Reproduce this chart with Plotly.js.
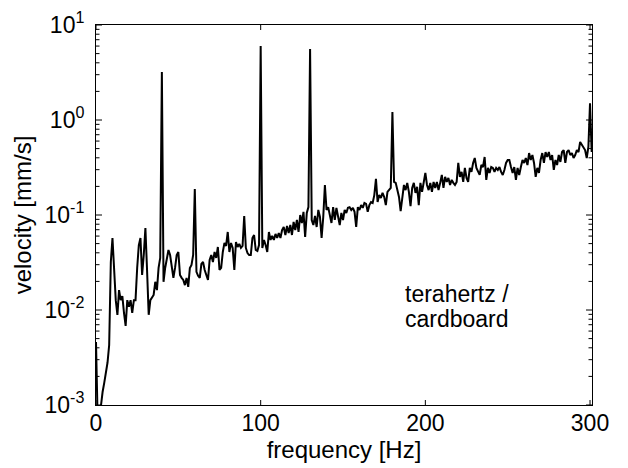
<!DOCTYPE html>
<html>
<head>
<meta charset="utf-8">
<script src="https://cdn.plot.ly/plotly-3.0.1.min.js"></script>
<style>html,body{margin:0;padding:0;background:#fff;}#chart{width:628px;height:468px;}</style>
</head>
<body>
<div id="chart"></div>
<script>
var frequency = [0,1,2,3,4,5,6,7,8,9,10,11,12,13,14,15,16,17,18,19,20,21,22,23,24,25,26,27,28,29,30,31,32,33,34,35,36,37,38,39,40,41,42,43,44,45,46,47,48,49,50,51,52,53,54,55,56,57,58,59,60,61,62,63,64,65,66,67,68,69,70,71,72,73,74,75,76,77,78,79,80,81,82,83,84,85,86,87,88,89,90,91,92,93,94,95,96,97,98,99,100,101,102,103,104,105,106,107,108,109,110,111,112,113,114,115,116,117,118,119,120,121,122,123,124,125,126,127,128,129,130,131,132,133,134,135,136,137,138,139,140,141,142,143,144,145,146,147,148,149,150,151,152,153,154,155,156,157,158,159,160,161,162,163,164,165,166,167,168,169,170,171,172,173,174,175,176,177,178,179,180,181,182,183,184,185,186,187,188,189,190,191,192,193,194,195,196,197,198,199,200,201,202,203,204,205,206,207,208,209,210,211,212,213,214,215,216,217,218,219,220,221,222,223,224,225,226,227,228,229,230,231,232,233,234,235,236,237,238,239,240,241,242,243,244,245,246,247,248,249,250,251,252,253,254,255,256,257,258,259,260,261,262,263,264,265,266,267,268,269,270,271,272,273,274,275,276,277,278,279,280,281,282,283,284,285,286,287,288,289,290,291,292,293,294,295,296,297,298,299,300,301];

var velocity = [
0.0046,0.0007,0.0007,0.00101,0.00137,0.00171,0.00221,0.0028,0.00428,0.032,
0.0573,0.0234,0.0127,0.0089,0.0162,0.0127,0.0140,0.0093,0.0068,0.0127,
0.0108,0.0127,0.0093,0.0127,0.0127,0.0277,0.0483,0.0573,0.0234,0.0379,
0.0730,0.0264,0.0089,0.0127,0.0134,0.0144,0.0198,0.0162,0.0277,0.0353,
3.2,0.0198,0.0277,0.0353,0.0428,0.0379,0.0298,0.0218,0.0277,0.0379,
0.0408,0.0234,0.0218,0.0207,0.0183,0.0218,0.0175,0.0277,0.0298,0.0379,
0.188,0.0252,0.0229,0.0218,0.0305,0.0320,0.0264,0.0234,0.0207,0.0336,
0.0379,0.0320,0.0408,0.0353,0.0461,0.0264,0.0277,0.0408,0.0508,0.0472,
0.0663,0.0408,0.0508,0.0450,0.0264,0.0520,0.0461,0.0496,0.0450,0.0472,
0.0976,0.0450,0.0398,0.0379,0.0379,0.0573,0.0616,0.0428,0.0418,0.0483,
6.0,0.0450,0.0546,0.0483,0.0408,0.0663,0.0546,0.0602,0.0546,0.0631,
0.0573,0.0647,0.0573,0.0695,0.0748,0.0616,0.0766,0.0647,0.0785,0.0616,
0.0844,0.0695,0.0886,0.0663,0.100,0.0824,0.108,0.0587,0.105,0.121,
5.6,0.0886,0.0785,0.0976,0.0748,0.113,0.0953,0.0573,0.0953,0.207,
0.113,0.121,0.0953,0.0824,0.121,0.0886,0.119,0.0930,0.0785,0.105,
0.0886,0.113,0.105,0.119,0.121,0.113,0.119,0.108,0.0748,0.121,
0.113,0.127,0.119,0.134,0.131,0.108,0.127,0.137,0.134,0.162,
0.240,0.137,0.162,0.151,0.171,0.155,0.127,0.175,0.183,0.193,
1.21,0.223,0.218,0.183,0.155,0.110,0.162,0.207,0.183,0.218,
0.175,0.124,0.193,0.218,0.171,0.198,0.127,0.218,0.175,0.218,
0.277,0.207,0.183,0.218,0.175,0.223,0.193,0.223,0.183,0.218,
0.264,0.193,0.252,0.223,0.246,0.207,0.234,0.218,0.207,0.223,
0.353,0.252,0.284,0.223,0.313,0.246,0.223,0.313,0.284,0.353,
0.398,0.313,0.284,0.264,0.336,0.320,0.408,0.234,0.313,0.277,
0.320,0.313,0.284,0.313,0.298,0.320,0.284,0.264,0.298,0.353,
0.379,0.379,0.320,0.277,0.320,0.234,0.313,0.264,0.320,0.379,
0.353,0.398,0.336,0.449,0.379,0.428,0.353,0.252,0.313,0.277,
0.379,0.449,0.353,0.460,0.408,0.460,0.379,0.428,0.298,0.379,
0.336,0.428,0.362,0.460,0.483,0.353,0.460,0.483,0.428,0.449,
0.398,0.428,0.483,0.460,0.587,0.546,0.520,0.483,0.398,0.520,
1.5,0.46
];

var yTickVals = [0.001, 0.01, 0.1, 1, 10];
var yTickText = ['10<sup>-3</sup>','10<sup>-2</sup>','10<sup>-1</sup>','10<sup>0</sup>','10<sup>1</sup>'];
var xTickVals = [0, 100, 200, 300];
var xTickText = ['0', '100', '200', '300'];
var labelLines = ['terahertz /', 'cardboard'];

var FONT = 'Liberation Sans, Arial, Helvetica, sans-serif';
var Y_RANGE = [-3, 1];
var X_RANGE = [0, 301.2];
var W = 628, H = 468;
var M = {l: 96, r: 36, t: 25, b: 63, pad: 0};
var PW = W - M.l - M.r, PH = H - M.t - M.b;

// inside tick marks on all four sides, drawn as shapes in paper fractions
var shapes = [];
function yFrac(v) { return (Math.log10(v) - Y_RANGE[0]) / (Y_RANGE[1] - Y_RANGE[0]); }
function xFrac(v) { return (v - X_RANGE[0]) / (X_RANGE[1] - X_RANGE[0]); }
function yTick(v, len) {
  var f = yFrac(v), d = len / PW;
  shapes.push({type: 'line', xref: 'paper', yref: 'paper', x0: 0, x1: d, y0: f, y1: f,
               line: {color: '#000', width: 1}});
  shapes.push({type: 'line', xref: 'paper', yref: 'paper', x0: 1 - d, x1: 1, y0: f, y1: f,
               line: {color: '#000', width: 1}});
}
yTickVals.forEach(function (v) { yTick(v, 6); });
[0.001, 0.01, 0.1, 1].forEach(function (d) {
  for (var m = 2; m <= 9; m++) { yTick(m * d, 3.5); }
});
xTickVals.forEach(function (v) {
  var f = xFrac(v), d = 5 / PH;
  shapes.push({type: 'line', xref: 'paper', yref: 'paper', x0: f, x1: f, y0: 0, y1: d,
               line: {color: '#000', width: 1}});
  shapes.push({type: 'line', xref: 'paper', yref: 'paper', x0: f, x1: f, y0: 1 - d, y1: 1,
               line: {color: '#000', width: 1}});
});

var trace = {
  x: frequency,
  y: velocity,
  type: 'scatter',
  mode: 'lines',
  line: {color: '#000000', width: 2},
  hoverinfo: 'skip'
};

var layout = {
  width: W,
  height: H,
  margin: M,
  paper_bgcolor: '#ffffff',
  plot_bgcolor: '#ffffff',
  showlegend: false,
  font: {family: FONT, size: 23, color: '#000000'},
  xaxis: {
    range: X_RANGE,
    tickmode: 'array',
    tickvals: xTickVals,
    ticktext: xTickText,
    ticks: '',
    showline: true,
    linecolor: '#000',
    linewidth: 1,
    mirror: true,
    showgrid: false,
    zeroline: false,
    ticklabelstandoff: -3,
    tickfont: {family: FONT, size: 23, color: '#000'},
    title: {text: 'frequency [Hz]', font: {family: FONT, size: 24, color: '#000'}, standoff: 0}
  },
  yaxis: {
    type: 'log',
    range: Y_RANGE,
    tickmode: 'array',
    tickvals: yTickVals,
    ticktext: yTickText,
    ticks: '',
    showline: true,
    linecolor: '#000',
    linewidth: 1,
    mirror: true,
    showgrid: false,
    zeroline: false,
    ticklabelstandoff: 6,
    tickfont: {family: FONT, size: 23, color: '#000'},
    title: {text: 'velocity [mm/s]', font: {family: FONT, size: 24, color: '#000'}, standoff: 6}
  },
  shapes: shapes,
  annotations: [
    {x: 186.3, y: -1.828, xref: 'x', yref: 'y', text: labelLines[0], showarrow: false,
     xanchor: 'left', yanchor: 'middle', font: {family: FONT, size: 23, color: '#000'}},
    {x: 186.3, y: -2.092, xref: 'x', yref: 'y', text: labelLines[1], showarrow: false,
     xanchor: 'left', yanchor: 'middle', font: {family: FONT, size: 23, color: '#000'}}
  ]
};

Plotly.newPlot('chart', [trace], layout, {displayModeBar: false, staticPlot: true});
</script>
</body>
</html>
